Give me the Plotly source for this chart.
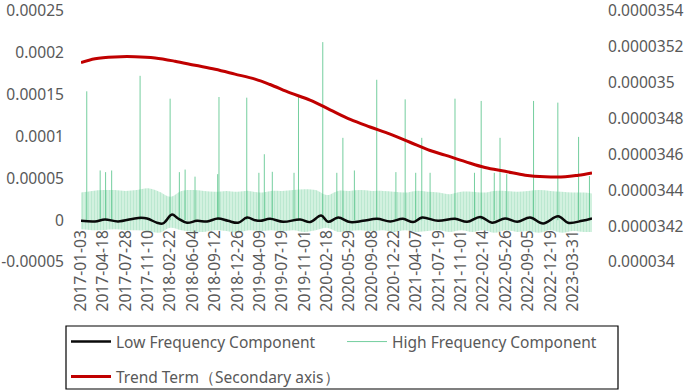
import plotly.graph_objects as go

# ---------------- data ----------------
tick_labels = ["2017-01-03", "2017-04-18", "2017-07-28", "2017-11-10", "2018-02-22",
               "2018-06-04", "2018-09-12", "2018-12-26", "2019-04-09", "2019-07-19",
               "2019-11-01", "2020-02-18", "2020-05-29", "2020-09-08", "2020-12-22",
               "2021-04-07", "2021-07-19", "2021-11-01", "2022-02-14", "2022-05-26",
               "2022-09-05", "2022-12-19", "2023-03-31"]
tick_step = 70          # observations between labelled dates
last_obs = 1600         # index of last observation

# trend term (secondary axis), sampled along the observation index
trend_idx = [0, 44, 106, 169, 232, 294, 357, 420, 482, 545, 592, 655, 717, 780, 843,
             905, 968, 1030, 1093, 1140, 1203, 1265, 1328, 1391, 1453, 1516, 1557, 1600]
trend_vals = [3.5112e-05, 3.5134e-05, 3.5144e-05, 3.5145e-05, 3.5138e-05, 3.5120e-05,
              3.5097e-05, 3.5075e-05, 3.5048e-05, 3.5020e-05, 3.4990e-05, 3.4943e-05,
              3.4903e-05, 3.4849e-05, 3.4795e-05, 3.4753e-05, 3.4713e-05, 3.4668e-05,
              3.4622e-05, 3.4596e-05, 3.4560e-05, 3.4527e-05, 3.4506e-05, 3.4484e-05,
              3.4475e-05, 3.4475e-05, 3.4484e-05, 3.4497e-05]

# low frequency component
low_idx = [0, 44, 75, 116, 179, 207, 238, 257, 285, 304, 332, 363, 395, 429, 460, 492,
           520, 545, 561, 592, 633, 686, 717, 752, 774, 805, 843, 883, 927, 968, 1008,
           1040, 1068, 1118, 1171, 1209, 1250, 1287, 1328, 1366, 1406, 1447, 1494, 1525,
           1569, 1600]
low_vals = [-0.8e-06, -1.5e-06, 0.8e-06, -1.5e-06, 2.7e-06, 2.0e-06, -3.1e-06, -3.9e-06,
            6.7e-06, 2.0e-06, -3.1e-06, -0.8e-06, -1.5e-06, 2.0e-06, -0.8e-06, -3.1e-06,
            3.1e-06, 0.0, -0.8e-06, 1.6e-06, -2.0e-06, 0.8e-06, -2.3e-06, 5.5e-06,
            -2.0e-06, 3.1e-06, -2.3e-06, -0.8e-06, 1.6e-06, -1.5e-06, 1.6e-06, -2.3e-06,
            3.1e-06, -0.8e-06, 1.6e-06, -2.0e-06, 3.9e-06, -3.1e-06, 2.0e-06, -2.0e-06,
            3.1e-06, -3.9e-06, 4.7e-06, -3.1e-06, -0.8e-06, 2.0e-06]

# high frequency component: envelope of the dense oscillation ...
hf_idx = [0, 35, 70, 105, 140, 175, 210, 245, 280, 315, 350, 385, 420, 455, 490, 525,
          560, 595, 630, 665, 700, 735, 770, 805, 840, 875, 910, 945, 980, 1015, 1050,
          1085, 1120, 1155, 1190, 1225, 1260, 1295, 1330, 1365, 1400, 1435, 1470, 1505,
          1540, 1575, 1600]
hf_upper = [3.3e-05, 3.5e-05, 3.6e-05, 3.6e-05, 3.5e-05, 3.6e-05, 3.8e-05, 3.4e-05,
            2.8e-05, 3.5e-05, 3.6e-05, 3.5e-05, 3.4e-05, 3.5e-05, 3.4e-05, 3.5e-05,
            3.3e-05, 3.5e-05, 3.5e-05, 3.6e-05, 3.7e-05, 3.6e-05, 3.0e-05, 3.5e-05,
            3.5e-05, 3.6e-05, 3.5e-05, 3.5e-05, 3.4e-05, 3.3e-05, 3.5e-05, 3.4e-05,
            3.3e-05, 3.1e-05, 3.4e-05, 3.4e-05, 3.3e-05, 3.5e-05, 3.5e-05, 3.4e-05,
            3.5e-05, 3.6e-05, 3.5e-05, 3.4e-05, 3.3e-05, 3.3e-05, 3.2e-05]
hf_lower = [-1.1e-05, -1.2e-05, -1.2e-05, -1.1e-05, -1.2e-05, -1.2e-05, -1.3e-05, -1.5e-05,
            -0.9e-05, -1.2e-05, -1.4e-05, -1.4e-05, -1.2e-05, -1.3e-05, -1.5e-05, -1.2e-05,
            -1.3e-05, -1.2e-05, -1.3e-05, -1.2e-05, -1.4e-05, -1.2e-05, -0.9e-05, -1.4e-05,
            -1.3e-05, -1.2e-05, -1.3e-05, -1.2e-05, -1.4e-05, -1.2e-05, -1.4e-05, -1.3e-05,
            -1.2e-05, -1.4e-05, -1.2e-05, -1.4e-05, -1.2e-05, -1.5e-05, -1.2e-05, -1.4e-05,
            -1.3e-05, -1.5e-05, -1.2e-05, -1.5e-05, -1.3e-05, -1.4e-05, -1.4e-05]
# ... and its isolated spikes
spike_idx = [18, 60, 77, 96, 185, 279, 308, 326, 357, 428, 432, 519, 557, 574, 599, 667,
             681, 757, 801, 820, 856, 926, 986, 1015, 1048, 1067, 1093, 1171, 1232, 1253,
             1294, 1312, 1333, 1417, 1493, 1558, 1592]
spike_vals = [1.540e-04, 5.94e-05, 5.74e-05, 5.94e-05, 1.725e-04, 1.452e-04, 5.74e-05,
              6.05e-05, 5.2e-05, 5.5e-05, 1.472e-04, 1.464e-04, 5.66e-05, 7.88e-05,
              5.78e-05, 5.66e-05, 1.472e-04, 2.128e-04, 5.66e-05, 9.84e-05, 5.94e-05,
              1.678e-04, 5.74e-05, 1.444e-04, 5.66e-05, 9.84e-05, 5.66e-05, 1.452e-04,
              5.66e-05, 1.425e-04, 5.66e-05, 9.84e-05, 5.5e-05, 1.425e-04, 1.405e-04,
              9.95e-05, 5.27e-05]

left_ticks = [-0.00005, 0, 0.00005, 0.0001, 0.00015, 0.0002, 0.00025]
left_text = ["-0.00005", "0", "0.00005", "0.0001", "0.00015", "0.0002", "0.00025"]
right_ticks = [0.000034, 0.0000342, 0.0000344, 0.0000346, 0.0000348, 0.000035,
               0.0000352, 0.0000354]
right_text = ["0.000034", "0.0000342", "0.0000344", "0.0000346", "0.0000348",
              "0.000035", "0.0000352", "0.0000354"]

# ---------------- figure ----------------
W, H = 685, 391
L, R, T, B = 81, 592, 11, 262
pw, ph = R - L, B - T


def px_x(x):
    return (x - L) / pw


def px_y(y):
    return (B - y) / ph


FONT = "Noto Sans"
GREY = "#595959"
GREEN = "rgba(70,190,125,0.75)"
FS = 15.6

fig = go.Figure()

# band of the high-frequency oscillation
fig.add_trace(go.Scatter(x=hf_idx, y=hf_lower, mode="lines", line=dict(width=0, shape="spline"),
                         showlegend=False, hoverinfo="skip"))
fig.add_trace(go.Scatter(x=hf_idx, y=hf_upper, mode="lines", line=dict(width=0, shape="spline"),
                         fill="tonexty", fillcolor="rgba(165,225,190,0.6)",
                         fillpattern=dict(shape="|", size=3, solidity=0.3,
                                          fgcolor="rgba(95,195,140,0.45)",
                                          bgcolor="rgba(180,232,202,0.6)",
                                          fillmode="overlay"),
                         showlegend=False, hoverinfo="skip"))

sx, sy = [], []
for i, v in zip(spike_idx, spike_vals):
    sx += [i, i, None]
    sy += [0, v, None]

fig.add_trace(go.Scatter(x=sx, y=sy, mode="lines", name="High Frequency Component",
                         line=dict(color=GREEN, width=1), legend="legend2"))
fig.add_trace(go.Scatter(x=low_idx, y=low_vals, mode="lines", name="Low Frequency Component",
                         line=dict(color="#0a0a0a", width=2.5, shape="spline"), legend="legend"))
fig.add_trace(go.Scatter(x=trend_idx, y=trend_vals, mode="lines", name="Trend Term（Secondary axis）",
                         line=dict(color="#c00000", width=3, shape="spline"), yaxis="y2",
                         legend="legend3"))

tickvals = [k * tick_step for k in range(len(tick_labels))]

leg_common = dict(xanchor="left", yanchor="middle", orientation="h",
                  bgcolor="rgba(0,0,0,0)", itemwidth=40, font=dict(size=15.5, color=GREY))

fig.update_layout(
    width=W, height=H,
    margin=dict(l=L, r=W - R, t=T, b=H - B, autoexpand=False),
    paper_bgcolor="white", plot_bgcolor="white",
    font=dict(family=FONT, size=FS, color=GREY),
    xaxis=dict(range=[0, last_obs], tickvals=tickvals, ticktext=tick_labels,
               tickangle=-90, showgrid=False, zeroline=False, showline=False,
               ticks="", anchor="free", position=px_y(220), ticklabelstandoff=6,
               ticklabeloverflow="allow", tickfont=dict(size=FS, color=GREY)),
    yaxis=dict(range=[-0.00005, 0.00025], tickmode="array", tickvals=left_ticks,
               ticktext=left_text, showgrid=False, zeroline=False, showline=False,
               ticks="", ticklabelstandoff=16, ticklabeloverflow="allow"),
    yaxis2=dict(range=[0.000034, 0.0000354], tickmode="array", tickvals=right_ticks,
                ticktext=right_text, overlaying="y", side="right", showgrid=False,
                zeroline=False, showline=False, ticks="", ticklabelstandoff=15,
                ticklabeloverflow="allow"),
    legend=dict(x=px_x(66), y=px_y(342), **leg_common),
    legend2=dict(x=px_x(342), y=px_y(342), **leg_common),
    legend3=dict(x=px_x(66), y=px_y(377), **leg_common),
    shapes=[dict(type="rect", xref="paper", yref="paper",
                 x0=px_x(66), x1=px_x(618), y0=px_y(389), y1=px_y(326),
                 line=dict(color="black", width=1.2), fillcolor="rgba(0,0,0,0)")],
)

fig.write_html("out.html", config={"displayModeBar": False},
               post_script="document.body.style.margin='0';document.body.style.overflow='hidden';")
